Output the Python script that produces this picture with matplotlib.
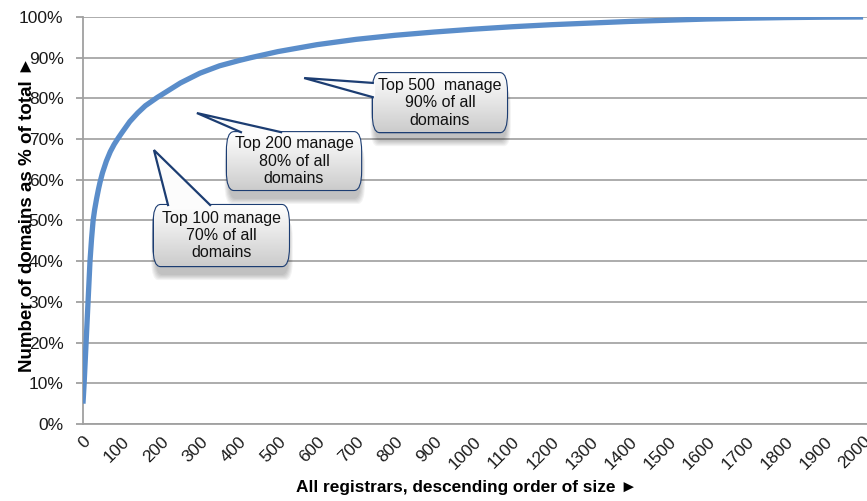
import numpy as np
import matplotlib
matplotlib.use('Agg')
import matplotlib.pyplot as plt
from matplotlib.patches import FancyBboxPatch, Polygon

plt.rcParams['font.family'] = ['Liberation Sans', 'DejaVu Sans']

# cumulative share of domains (%) by registrar rank
ranks = [0, 3, 8, 13, 18, 22, 26, 30, 35, 40, 44, 50, 60, 70, 80, 90, 100,
         120, 140, 160, 190, 220, 250, 300, 350, 400, 430, 500, 600, 700,
         800, 900, 1000, 1100, 1200, 1300, 1400, 1500, 1600, 1700, 1800,
         1900, 2000]
share = [5, 10, 20, 30, 40, 45.5, 50, 52.7, 55.4, 57.8, 59.5, 61.7, 64.6,
         66.9, 68.7, 70.2, 71.6, 74.3, 76.4, 78.2, 80.2, 82, 83.8, 86.2, 88,
         89.3, 90, 91.5, 93.2, 94.5, 95.5, 96.3, 97, 97.6, 98.1, 98.5,
         98.9, 99.2, 99.5, 99.7, 99.85, 99.95, 100]

x_ticks = list(range(0, 2001, 100))
y_ticks = list(range(0, 101, 10))

# callouts: text, box (x0, y0, x1, y1), tail tip, tail base (two points)
callout_text = ['Top 100 manage\n70% of all\ndomains',
                'Top 200 manage\n80% of all\ndomains',
                'Top 500  manage\n90% of all\ndomains']
callout_box = [(181, 38.8, 528, 53.8),
               (369, 57.5, 713, 71.7),
               (743, 71.7, 1087, 86.2)]
callout_tip = [(182, 67.3), (292, 76.4), (567, 85.0)]
callout_base = [[(218, 53.8), (326, 53.8)],
                [(405, 71.7), (508, 71.7)],
                [(743, 83.8), (743, 80.3)]]

fig = plt.figure(figsize=(8.67, 5.01), dpi=100)
ax = fig.add_axes([0.0957, 0.1537, 0.9043, 0.8124])

ax.plot(ranks, share, color='#5A8DCA', lw=3.8, solid_capstyle='butt',
        solid_joinstyle='round', zorder=3)

ax.set_xlim(0, 2010)
ax.set_ylim(0, 100)
ax.set_xticks(x_ticks)
ax.set_xticklabels([str(t) for t in x_ticks], rotation=45, ha='right', va='top',
                   rotation_mode='anchor', fontsize=12.5, color='#1a1a1a')
ax.set_yticks(y_ticks)
ax.set_yticklabels(['%d%%' % t for t in y_ticks], fontsize=12.5, color='#1a1a1a')
ax.tick_params(axis='x', length=0, pad=7)
ax.tick_params(axis='y', length=5, width=1.3, color='#A0A0A0', pad=9)
ax.yaxis.grid(True, color='#A6A6A6', lw=1.3)
ax.set_axisbelow(True)
for s in ['top', 'right']:
    ax.spines[s].set_visible(False)
for s in ['left', 'bottom']:
    ax.spines[s].set_color('#A0A0A0')
    ax.spines[s].set_linewidth(1.3)

ax.set_ylabel('Number of domains as % of total \u25ba', fontsize=13.5,
              fontweight='bold')
ax.yaxis.set_label_coords(-0.060, 0.516)
ax.set_xlabel('All registrars, descending order of size \u25ba', fontsize=12.4,
              fontweight='bold')
ax.xaxis.set_label_coords(0.489, -0.138)

# white-to-grey fill for the callout boxes
grad = np.linspace(1.0, 0.80, 64).reshape(-1, 1)
grad = np.dstack([grad, grad, grad])

for text, (x0, y0, x1, y1), tip, base in zip(callout_text, callout_box,
                                              callout_tip, callout_base):
    w, h = x1 - x0, y1 - y0
    # soft shadow
    for i in range(6):
        sh = FancyBboxPatch((x0 + 4 - i * 2, y0 - 2.2 - i * 0.25), w + i * 4 - 4, h,
                            boxstyle='round,pad=0,rounding_size=18',
                            mutation_aspect=0.26, fc='#000000', ec='none',
                            alpha=0.045, zorder=4)
        ax.add_patch(sh)
    box = FancyBboxPatch((x0, y0), w, h, boxstyle='round,pad=0,rounding_size=18',
                         mutation_aspect=0.26, fc='white', ec='#1C3D72', lw=1.6,
                         zorder=5)
    ax.add_patch(box)
    im = ax.imshow(grad, extent=(x0, x1, y0, y1), origin='upper', aspect='auto',
                   zorder=5.1, interpolation='bilinear')
    im.set_clip_path(box)
    # tail, pushed a little into the box so it hides the border there
    if base[0][1] == y1:
        dx, dy = 0, -1.2
    else:
        dx, dy = 6, 0
    tail = Polygon([tip, base[0], (base[0][0] + dx, base[0][1] + dy),
                    (base[1][0] + dx, base[1][1] + dy), base[1]],
                   closed=True, fc='#FCFCFC', ec='none', zorder=5.2)
    ax.add_patch(tail)
    ax.plot([base[0][0], tip[0], base[1][0]], [base[0][1], tip[1], base[1][1]],
            color='#1C3D72', lw=1.6, zorder=5.3, solid_joinstyle='miter')
    ax.text((x0 + x1) / 2, (y0 + y1) / 2, text, ha='center', va='center',
            fontsize=11.5, color='#111111', zorder=6)

ax.set_xlim(0, 2010)
ax.set_ylim(0, 100)

fig.savefig('out.png', dpi=100)
